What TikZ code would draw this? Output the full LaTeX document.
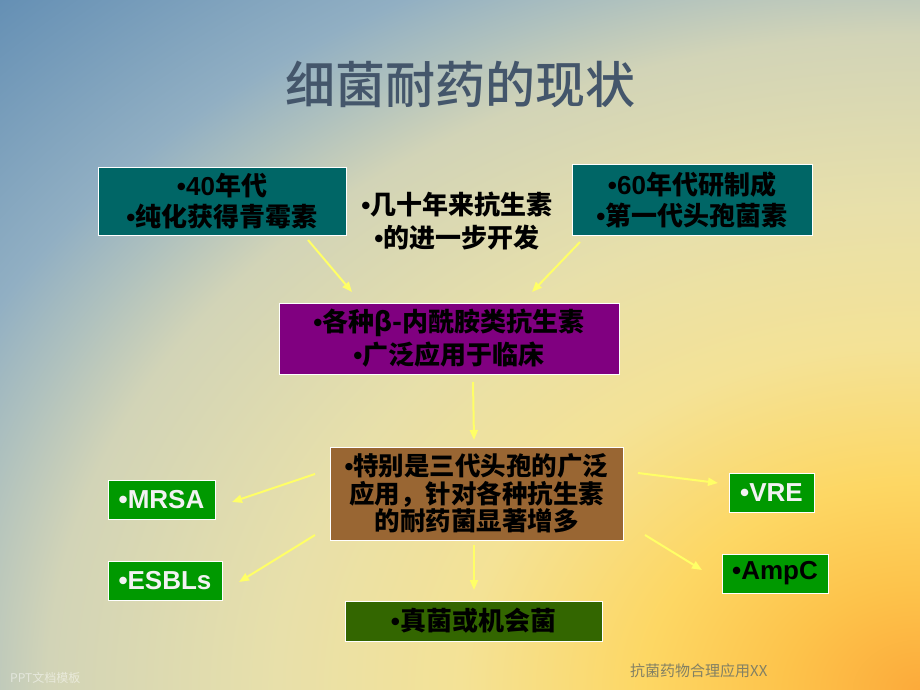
\documentclass[tikz,border=0pt]{standalone}
\usepackage{fontspec}
\setmainfont{Noto Sans CJK SC}
\newfontfamily\lat{Liberation Sans}
\newfontfamily\cjkmed{Noto Sans CJK SC Medium}
\newcommand{\bul}{{\lat\bfseries•}}
\newcommand{\latb}[1]{{\lat\bfseries #1}}
\usetikzlibrary{arrows.meta,calc}
\definecolor{bg0}{RGB}{252,170,58}
\definecolor{bg1}{RGB}{253,195,75}
\definecolor{bg2}{RGB}{253,215,100}
\definecolor{bg3}{RGB}{244,226,150}
\definecolor{bg4}{RGB}{232,224,170}
\definecolor{bg5}{RGB}{210,212,183}
\definecolor{bg5b}{RGB}{175,193,190}
\definecolor{bg6}{RGB}{145,175,195}
\definecolor{bg7}{RGB}{100,143,180}
\pgfdeclareradialshading{slidebg}{\pgfpointorigin}{color(0bp)=(bg0); color(2.6bp)=(bg1); color(5.3bp)=(bg2); color(8.8bp)=(bg3); color(12.3bp)=(bg4); color(16.7bp)=(bg5); color(18.5bp)=(bg5b); color(20.2bp)=(bg6); color(25bp)=(bg7); color(50bp)=(bg7)}
\definecolor{tealbox}{RGB}{0,102,102}
\definecolor{purplebox}{RGB}{128,0,128}
\definecolor{brownbox}{RGB}{153,102,51}
\definecolor{greenbox}{RGB}{0,153,0}
\definecolor{dgreenbox}{RGB}{51,102,0}
\definecolor{titlecol}{RGB}{68,86,107}
\definecolor{arrowcol}{RGB}{255,255,102}
\definecolor{footcol}{RGB}{130,128,100}
\tikzset{
  box/.style={draw=white, line width=1pt, inner sep=0pt, align=center, text=black},
  cjkbig/.style={font=\fontsize{26}{31}\selectfont\bfseries},
  latbox/.style={box, fill=greenbox, minimum height=39pt, font=\lat\fontsize{26}{30}\selectfont\bfseries},
  arr/.style={draw=arrowcol, line width=2pt, -{Triangle[length=10pt,width=8pt]}}
}
\begin{document}
\begin{tikzpicture}[x=1pt,y=-1pt]
\begin{scope}
\clip (0,0) rectangle (920,690);
\shade[shading=slidebg] (920,690) ellipse [x radius=1306, y radius=980];
\end{scope}
\useasboundingbox (0,0) rectangle (920,690);

\node[font=\cjkmed\fontsize{50}{60}\selectfont, text=titlecol] (title) at (460,84) {细菌耐药的现状};

\node[box, cjkbig, fill=tealbox, minimum width=248pt, minimum height=68pt] (A) at (222,201) {\bul\latb{40}年代\\\bul 纯化获得青霉素};
\node[box, cjkbig, fill=tealbox, minimum width=240pt, minimum height=71pt] (B) at (692,199.5) {\bul\latb{60}年代研制成\\\bul 第一代头孢菌素};
\node[align=center, inner sep=0pt, font=\fontsize{26}{33}\selectfont\bfseries] (mid) at (457,221) {\bul 几十年来抗生素\\\bul 的进一步开发};
\node[box, font=\fontsize{26}{33}\selectfont\bfseries, fill=purplebox, minimum width=340pt, minimum height=71pt] (C) at (449,338.5) {\bul 各种β-内酰胺类抗生素\\\bul 广泛应用于临床};
\node[box, font=\fontsize{25.5}{27.5}\selectfont\bfseries, fill=brownbox, minimum width=293pt, minimum height=93pt] (D) at (476.5,493.5) {\bul 特别是三代头孢的广泛\\应用，针对各种抗生素\\的耐药菌显著增多};

\node[latbox, minimum width=107pt, text=white!90!gray] (mrsa) at (161.5,499.5) {•MRSA};
\node[latbox, minimum width=114pt, text=white!90!gray] (esbl) at (165,580.5) {•ESBLs};
\node[latbox, minimum width=85pt, text=white!90!gray] (vre) at (771.5,492.5) {•VRE};
\node[latbox, minimum width=106pt, text=black] (ampc) at (775,573.5) {•AmpC};
\node[box, cjkbig, fill=dgreenbox, minimum width=257pt, minimum height=40pt] (fungi) at (473.5,621) {\bul 真菌或机会菌};

\coordinate (a1s) at (308,240); \coordinate (a1e) at (352,292);
\coordinate (a2s) at (580,242); \coordinate (a2e) at (532,292);
\coordinate (a3s) at (473,382); \coordinate (a3e) at (474,440);
\coordinate (a4s) at (315,474); \coordinate (a4e) at (232,502);
\coordinate (a5s) at (315,535); \coordinate (a5e) at (239,582);
\coordinate (a6s) at (638,473); \coordinate (a6e) at (718,483);
\coordinate (a7s) at (645,535); \coordinate (a7e) at (702,570);
\coordinate (a8s) at (474,545); \coordinate (a8e) at (474,590);
\draw[arr] (a1s) -- (a1e);
\draw[arr] (a2s) -- (a2e);
\draw[arr] (a3s) -- (a3e);
\draw[arr] (a4s) -- (a4e);
\draw[arr] (a5s) -- (a5e);
\draw[arr] (a6s) -- (a6e);
\draw[arr] (a7s) -- (a7e);
\draw[arr] (a8s) -- (a8e);

\node[anchor=west, inner sep=0pt, font=\fontsize{12}{14}\selectfont, text=white, opacity=0.5] (ppt) at (10,678) {PPT文档模板};
\node[anchor=west, inner sep=0pt, font=\fontsize{15}{18}\selectfont, text=footcol] (foot) at (630,671) {抗菌药物合理应用XX};
\end{tikzpicture}
\end{document}
